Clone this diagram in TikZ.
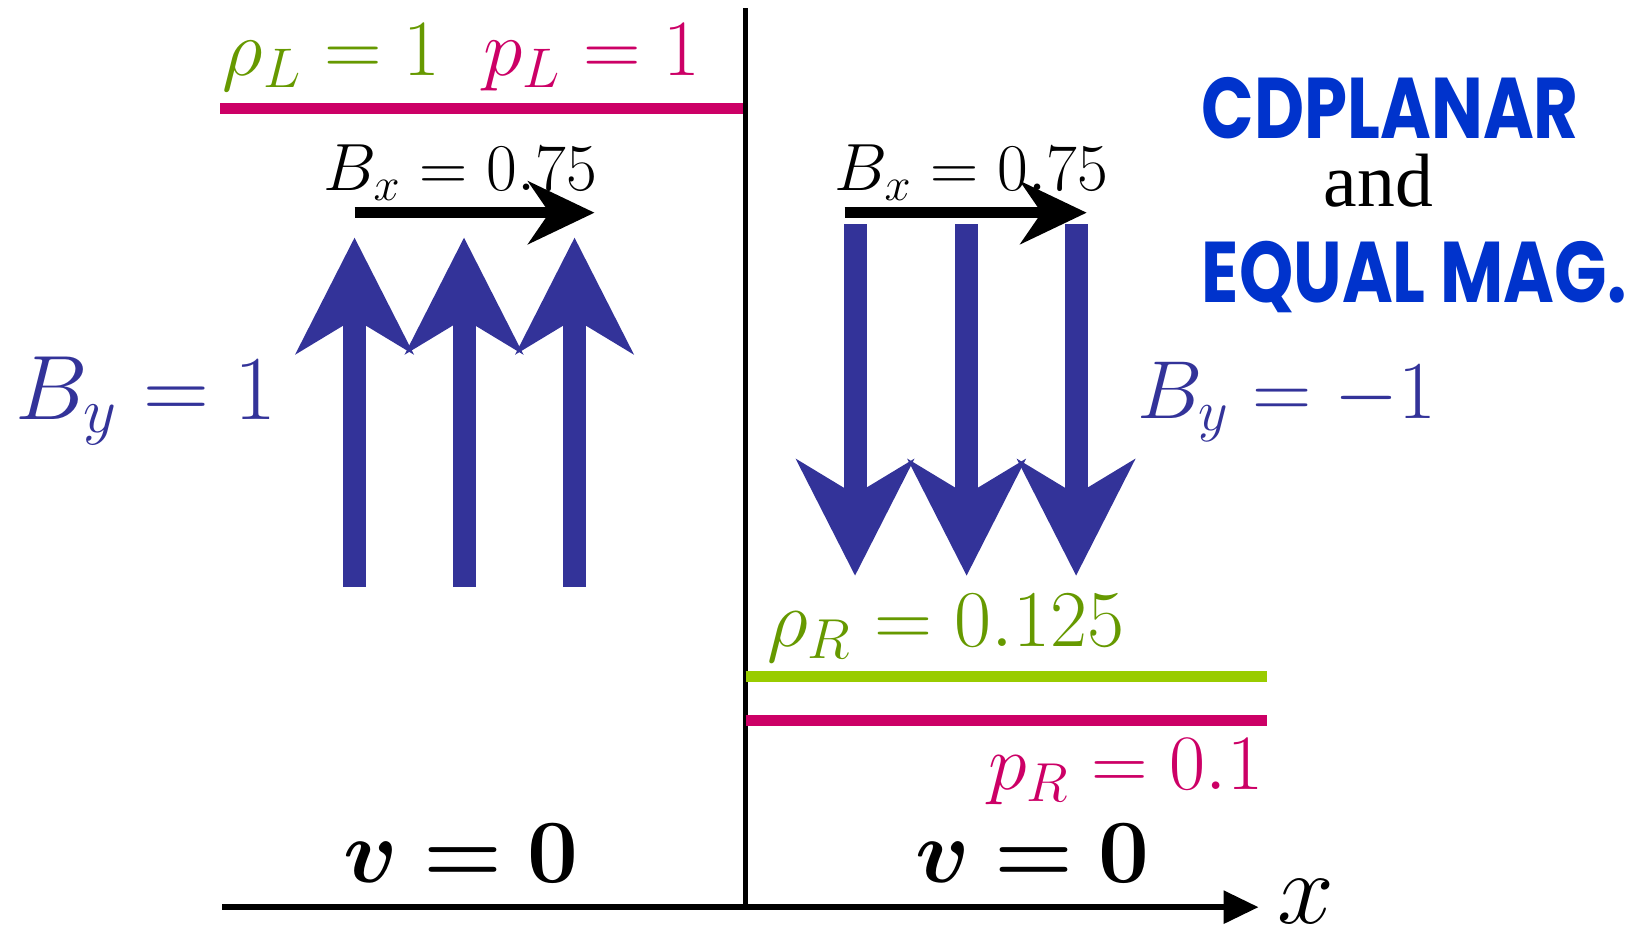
\documentclass[tikz,border=0pt]{standalone}
\usepackage{fix-cm}
\usepackage{amsmath}
\usepackage{bm}
\usepackage{fontspec}
\newfontfamily\titlefont{Poppins}
\newfontfamily\andfont{Liberation Serif}
\usetikzlibrary{arrows.meta, positioning}

\definecolor{fieldblue}{HTML}{333399}
\definecolor{rhogreen}{HTML}{669900}
\definecolor{linegreen}{HTML}{99CC00}
\definecolor{pmagenta}{HTML}{CC0066}
\definecolor{titleblue}{HTML}{0033CC}

\begin{document}
\begin{tikzpicture}[
    x=0.010427cm,
    y=0.010427cm,
    inner sep=0pt,
    field/.style={
        draw=fieldblue,
        line width=0.23cm,
        -{Stealth[length=1.17cm, width=1.19cm, inset=0.36cm, line width=0pt]}
    },
    bfield/.style={
        draw=black,
        line width=0.11cm,
        -{Stealth[length=0.67cm, width=0.64cm, inset=0.22cm, line width=0pt]}
    },
    level/.style={line width=0.115cm},
    lbl/.style={anchor=base west, font=\fontsize{22.7}{27}\selectfont},
    titletxt/.style={anchor=base west, text=titleblue,
        font=\titlefont\bfseries\fontsize{24.5}{29}\selectfont}
]
\useasboundingbox (0,0) rectangle (1568,896);

% axes
\coordinate (top) at (715,888);
\coordinate (origin) at (715,26);
\coordinate (xs) at (213,26);
\coordinate (xe) at (1207,26);
\draw[line width=0.045cm] (top) -- (origin);
\draw[line width=0.06cm, -{Triangle[length=0.35cm, width=0.32cm]}] (xs) -- (xe);
\node[anchor=base west, font=\fontsize{29}{34}\selectfont] (xlab) at (1224,10) {$x$};

% initial states
\coordinate (pl1) at (211,792);
\coordinate (pl2) at (713,792);
\coordinate (rr1) at (715,247);
\coordinate (rr2) at (1215,247);
\coordinate (pr1) at (715,205);
\coordinate (pr2) at (1215,205);
\draw[level, pmagenta] (pl1) -- (pl2);
\draw[level, linegreen] (rr1) -- (rr2);
\draw[level, pmagenta] (pr1) -- (pr2);

\node[lbl, text=rhogreen] (rhoL) at (213,824) {$\rho_L = 1$};
\node[lbl, text=pmagenta] (pL) at (463,824) {$p_L = 1$};
\node[lbl, text=rhogreen, font=\fontsize{22.9}{27}\selectfont] (rhoR) at (735,276) {$\rho_R = 0.125$};
\node[lbl, text=pmagenta, anchor=base east,
    font=\fontsize{22.3}{27}\selectfont] (pR) at (1212,139) {$p_R = 0.1$};

% magnetic field
\node[lbl, font=\fontsize{19}{23}\selectfont] (bxL) at (310,713) {$B_x = 0.75$};
\node[lbl, font=\fontsize{19}{23}\selectfont] (bxR) at (800,713) {$B_x = 0.75$};
\node[lbl, text=fieldblue, font=\fontsize{26}{31}\selectfont] (byL) at (14,494) {$B_y = 1$};
\node[lbl, text=fieldblue, font=\fontsize{23.4}{28}\selectfont] (byR) at (1090,495) {$B_y = -1$};

\foreach \x [count=\i] in {340,445,551} {
    \coordinate (up\i a) at (\x,333);
    \coordinate (up\i b) at (\x,668);
    \draw[field] (up\i a) -- (up\i b);
}
\foreach \x [count=\i] in {820,927,1032} {
    \coordinate (dn\i a) at (\x,681);
    \coordinate (dn\i b) at (\x,344);
    \draw[field] (dn\i a) -- (dn\i b);
}

\coordinate (bxL1) at (340,692);
\coordinate (bxL2) at (570,692);
\coordinate (bxR1) at (810,692);
\coordinate (bxR2) at (1042,692);
\draw[bfield] (bxL1) -- (bxL2);
\draw[bfield] (bxR1) -- (bxR2);

% velocity
\node[lbl, font=\fontsize{25.7}{31}\selectfont] (vL) at (329,50) {$\boldsymbol{v = 0}$};
\node[lbl, font=\fontsize{25.7}{31}\selectfont] (vR) at (877,50) {$\boldsymbol{v = 0}$};

% title
\node[titletxt] (cdp) at (1152,763) {\scalebox{0.80}[1]{CDPLANAR}};
\node[anchor=base, font=\andfont\fontsize{21.5}{25}\selectfont] (andw) at (1322,698) {and};
\node[titletxt] (eqm) at (1152,606) {\scalebox{0.80}[1]{EQUAL MAG.}};
\end{tikzpicture}
\end{document}
